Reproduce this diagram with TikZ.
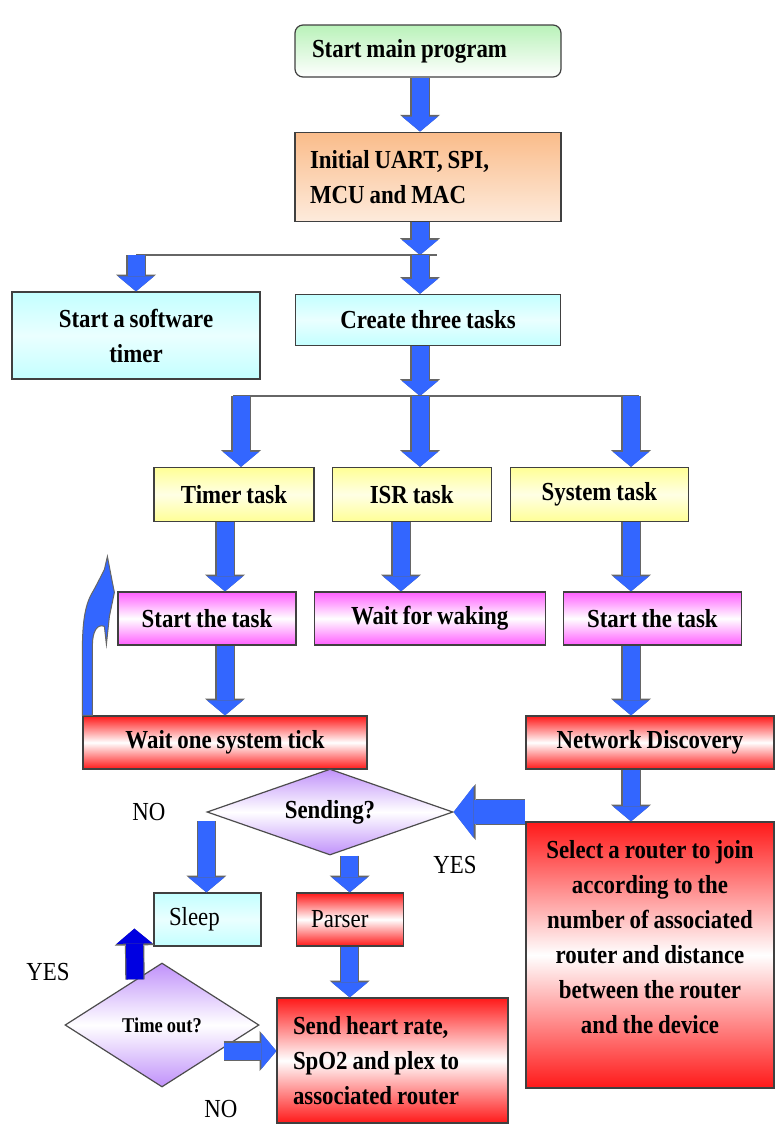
\documentclass[tikz,border=0pt]{standalone}
\usepackage{fontspec}
\setmainfont{Liberation Serif}[FakeStretch=0.88, WordSpace=0.85]
\usetikzlibrary{shapes.geometric, arrows.meta, positioning, calc}
\usepackage{xcolor}

\definecolor{arrowblue}{RGB}{51,102,255}
\definecolor{darkblue}{RGB}{0,0,225}
\definecolor{startgreen}{RGB}{185,242,185}
\definecolor{initorange}{RGB}{250,188,138}
\definecolor{boxcyan}{RGB}{195,255,255}
\definecolor{taskyellow}{RGB}{255,255,150}
\definecolor{taskmagenta}{RGB}{255,95,255}
\definecolor{boxred}{RGB}{255,25,25}
\definecolor{decpurple}{RGB}{192,145,250}

\begin{document}
\begin{tikzpicture}[
    x=0.5pt, y=-0.5pt,
    box/.style={draw=black!75, line width=0.6pt, rectangle, inner xsep=7.5pt, inner ysep=2pt, align=center,
        font=\fontsize{13}{17.5}\selectfont\bfseries, execute at begin node={\spaceskip=0.19em\relax}},
    greenbox/.style={box, rounded corners=4pt, top color=startgreen, bottom color=white},
    orangebox/.style={box, top color=initorange, bottom color=initorange!30},
    cyanbox/.style={box, top color=boxcyan, bottom color=boxcyan, middle color=boxcyan!35},
    yellowbox/.style={box, top color=taskyellow, bottom color=taskyellow, middle color=taskyellow!25},
    pinkbox/.style={box, top color=taskmagenta, bottom color=taskmagenta, middle color=white},
    redbox/.style={box, top color=boxred, bottom color=boxred, middle color=white},
    decision/.style={draw=black!70, line width=0.6pt, diamond, inner sep=0pt, top color=decpurple, bottom color=decpurple, middle color=white, font=\fontsize{13}{15}\selectfont\bfseries},
    answer/.style={inner sep=0pt, font=\fontsize{13}{15}\selectfont},
    branch/.style={draw=black!60, line width=0.9pt},
    blk/.style={draw=arrowblue, line width=8.5pt, -{Triangle[length=7.5pt, width=18pt, line width=0pt]},
        preaction={draw=black!60, line width=9.7pt, -{Triangle[length=8.4pt, width=20pt, line width=0pt]}}},
    bigblk/.style={draw=arrowblue, line width=12pt, -{Triangle[length=10pt, width=26pt, line width=0pt]},
        preaction={draw=black!60, line width=13.2pt, -{Triangle[length=11pt, width=28pt, line width=0pt]}}},
    upblk/.style={blk, draw=darkblue}
]
\useasboundingbox (0,0) rectangle (776,1124);

\coordinate (colA) at (225,0);
\coordinate (colB) at (401,0);
\coordinate (colC) at (631,0);
\coordinate (fork1) at (420,255);
\coordinate (fork2) at (420,396);
\coordinate (tA) at (241,396);
\coordinate (tC) at (631,396);

\node[greenbox, align=left, text width=116pt, inner xsep=8.5pt, minimum height=26pt] (start) at (428,51) {Start main program};
\node[orangebox, align=left, text width=118pt, minimum height=44.5pt, below=27pt of start] (init) {Initial UART, SPI,\\MCU and MAC};
\node[cyanbox, minimum width=132.5pt, minimum height=25.5pt, below=36pt of init] (create) {Create three tasks};
\node[cyanbox, text width=109pt, minimum height=43.5pt] (swtimer) at (136,335.5) {Start a software\\timer};

\node[yellowbox, minimum width=80pt, minimum height=27pt] (timertask) at (234,494.5) {Timer task};
\node[yellowbox, minimum width=79.5pt, minimum height=27pt, right=8.5pt of timertask] (isrtask) {ISR task};
\node[yellowbox, minimum width=89pt, minimum height=27pt, right=9pt of isrtask] (systask) {System task};

\node[pinkbox, minimum width=89pt, minimum height=26.5pt] (starttaskA) at (207,618.5) {Start the task};
\node[pinkbox, minimum width=115.5pt, minimum height=26.5pt, right=8.5pt of starttaskA] (waitwake) {Wait for waking};
\node[pinkbox, minimum width=89pt, minimum height=26.5pt, right=8.5pt of waitwake] (starttaskB) {Start the task};

\node[redbox, minimum width=142pt, minimum height=26.5pt] (tick) at (225,742.5) {Wait one system tick};
\node[redbox, minimum width=124pt, minimum height=26.5pt] (netdisc) at (650,742.5) {Network Discovery};

\node[decision, aspect=3, minimum width=123pt, minimum height=43pt] (sending) at (330,812) {Sending?};
\node[redbox, text width=120pt, inner xsep=2pt, minimum height=133pt] (select) at (650,955) {Select a router to join\\according to the\\number of associated\\router and distance\\between the router\\and the device\\[0.5pt]\mbox{}};

\node[cyanbox, align=left, text width=38.5pt, minimum height=26.5pt, font=\fontsize{13}{15}\selectfont] (sleep) at (207.5,919.5) {Sleep};
\node[redbox, align=left, text width=38.5pt, minimum height=26.5pt, font=\fontsize{13}{15}\selectfont, right=17pt of sleep] (parser) {Parser};
\node[redbox, align=left, text width=99.5pt, inner xsep=8pt, minimum height=62.5pt] (send) at (392.5,1060.5) {Send heart rate,\\SpO2 and plex to\\associated router};
\node[decision, aspect=1.5, minimum width=97pt, minimum height=62pt, font=\fontsize{10.5}{12}\selectfont\bfseries] (timeout) at (162,1025) {Time out?};

\node[answer] (noA) at (149,812) {NO};
\node[answer] (yesA) at (455,865) {YES};
\node[answer] (yesB) at (48,972) {YES};
\node[answer] (noB) at (221,1109) {NO};

\draw[blk] (start.south -| fork1) -- (init.north -| fork1);
\draw[blk] (init.south -| fork1) -- (fork1);
\draw[branch] (fork1 -| swtimer.north) -- ($(fork1)+(17,0)$);
\draw[blk] (fork1 -| swtimer.north) -- (swtimer.north);
\draw[blk] (fork1) -- (create.north -| fork1);
\draw[blk] (create.south -| fork2) -- (fork2);
\draw[branch] ($(tA)+(-8,0)$) -- ($(tC)+(8,0)$);
\draw[blk] (tA) -- (tA |- timertask.north);
\draw[blk] (fork2) -- (fork2 |- isrtask.north);
\draw[blk] (tC) -- (tC |- systask.north);

\draw[blk] (timertask.south -| colA) -- (starttaskA.north -| colA);
\draw[blk] (isrtask.south -| colB) -- (waitwake.north -| colB);
\draw[blk] (systask.south -| colC) -- (starttaskB.north -| colC);
\draw[blk] (starttaskA.south -| colA) -- (tick.north -| colA);
\draw[blk] (starttaskB.south -| colC) -- (netdisc.north -| colC);
\draw[blk] (netdisc.south -| colC) -- (select.north -| colC);

\filldraw[fill=arrowblue, draw=black!60, line width=0.5pt, shift={(tick.north west)}]
    (0,0) -- (0,-66) .. controls (0,-90) and (2,-110) .. (10,-123) .. controls (14,-130) and (19,-140) .. (22,-146)
    -- (25,-159) -- (30,-133) -- (32,-123) -- (27,-99) -- (24,-71) -- (22,-89)
    .. controls (15,-92) and (10,-84) .. (10,-70) -- (10,0) -- cycle;

\draw[bigblk] (select.west |- sending.east) -- (sending.east);
\draw[blk] ([yshift=-4.5pt]sending.west) -- (sending.west |- sleep.north);
\draw[blk] (sending.south -| parser.north) -- (parser.north);
\draw[blk] (parser.south) -- (send.north -| parser.south);

\coordinate (sleepin) at ($(sleep.south west)+(-19,-18)$);
\draw[upblk] ($(timeout.north)+(-27,17)$) -- (sleepin);
\draw[blk] ($(timeout.east)+(-36,26)$) coordinate (toutR) -- (toutR -| send.west);

\end{tikzpicture}
\end{document}
